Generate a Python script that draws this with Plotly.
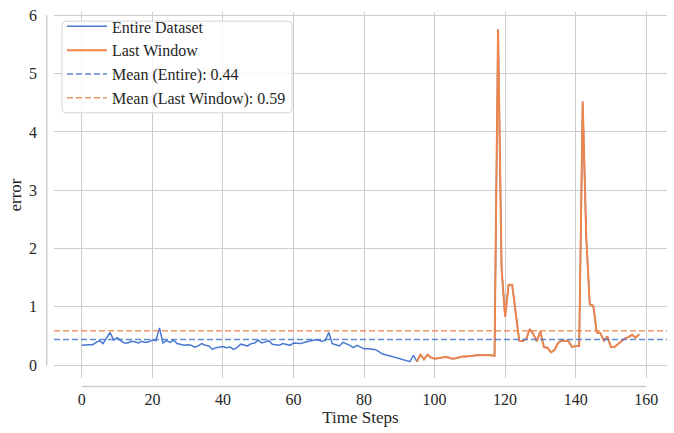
import plotly.graph_objects as go

# ---- data -------------------------------------------------------------
time_steps = list(range(159))
error_values = [
    0.34, 0.35, 0.35, 0.35, 0.39, 0.42, 0.37, 0.46, 0.56, 0.43,
    0.47, 0.42, 0.38, 0.38, 0.41, 0.40, 0.38, 0.41, 0.39, 0.40,
    0.43, 0.42, 0.64, 0.38, 0.42, 0.39, 0.43, 0.37, 0.35, 0.34,
    0.35, 0.34, 0.31, 0.33, 0.37, 0.34, 0.33, 0.27, 0.30, 0.31,
    0.32, 0.30, 0.31, 0.27, 0.30, 0.36, 0.34, 0.33, 0.37, 0.38,
    0.43, 0.38, 0.40, 0.42, 0.36, 0.35, 0.34, 0.37, 0.36, 0.34,
    0.38, 0.37, 0.37, 0.39, 0.41, 0.42, 0.43, 0.43, 0.41, 0.42,
    0.56, 0.37, 0.35, 0.33, 0.39, 0.37, 0.34, 0.30, 0.34, 0.31,
    0.28, 0.28, 0.27, 0.27, 0.24, 0.20, 0.18, 0.17, 0.15, 0.13,
    0.11, 0.09, 0.07, 0.06, 0.17, 0.06, 0.18, 0.10, 0.18, 0.13,
    0.11, 0.12, 0.13, 0.14, 0.13, 0.11, 0.12, 0.14, 0.15, 0.15,
    0.16, 0.17, 0.17, 0.17, 0.17, 0.18, 0.17, 0.16, 5.76, 1.66,
    0.83, 1.38, 1.38, 0.90, 0.42, 0.41, 0.45, 0.62, 0.53, 0.41,
    0.58, 0.31, 0.30, 0.22, 0.26, 0.38, 0.42, 0.42, 0.41, 0.31,
    0.33, 0.33, 4.52, 2.20, 1.04, 1.02, 0.56, 0.55, 0.42, 0.49,
    0.31, 0.31, 0.36, 0.42, 0.46, 0.48, 0.52, 0.47, 0.53,
]
window_start = 95
window_steps = time_steps[window_start:]
window_values = error_values[window_start:]
mean_entire = 0.44
mean_window = 0.59

x_ticks = [0, 20, 40, 60, 80, 100, 120, 140, 160]
y_ticks = [0, 1, 2, 3, 4, 5, 6]
x_range = [-7.9, 165.9]
y_range = [-0.22, 6.056]

# ---- style ------------------------------------------------------------
FONT = "Liberation Serif, Times New Roman, serif"
BLUE = "#4878d0"
ORANGE = "#ee854a"
GRID = "#cccccc"
TEXT = "#262626"

fig = go.Figure()
fig.add_trace(go.Scatter(x=time_steps, y=error_values, mode="lines",
                         name="Entire Dataset",
                         line=dict(color=BLUE, width=1.5)))
fig.add_trace(go.Scatter(x=window_steps, y=window_values, mode="lines",
                         name="Last Window",
                         line=dict(color=ORANGE, width=2)))
fig.add_trace(go.Scatter(x=x_range, y=[mean_entire, mean_entire], mode="lines",
                         name=f"Mean (Entire): {mean_entire:.2f}",
                         line=dict(color="rgba(72,120,208,0.85)", width=1.5,
                                   dash="6px,3px")))
fig.add_trace(go.Scatter(x=x_range, y=[mean_window, mean_window], mode="lines",
                         name=f"Mean (Last Window): {mean_window:.2f}",
                         line=dict(color="rgba(238,133,74,0.85)", width=1.5,
                                   dash="6px,3px")))

# offset, trimmed spines (seaborn despine style)
fig.add_shape(type="line", xref="x", yref="paper",
              x0=x_ticks[0], x1=x_ticks[-1], y0=-0.0234, y1=-0.0234,
              line=dict(color=GRID, width=1.5), layer="below")
fig.add_shape(type="line", xref="paper", yref="y",
              x0=-0.0119, x1=-0.0119, y0=y_ticks[0], y1=y_ticks[-1],
              line=dict(color=GRID, width=1.5), layer="below")

# legend frame with rounded corners (matplotlib fancybox look)
x0, x1, y0, y1 = 0.0131, 0.3884, 0.7245, 0.975
rx, ry = 0.0065, 0.0108
frame = (f"M {x0+rx},{y1} L {x1-rx},{y1} Q {x1},{y1} {x1},{y1-ry} "
         f"L {x1},{y0+ry} Q {x1},{y0} {x1-rx},{y0} L {x0+rx},{y0} "
         f"Q {x0},{y0} {x0},{y0+ry} L {x0},{y1-ry} Q {x0},{y1} {x0+rx},{y1} Z")
fig.add_shape(type="path", xref="paper", yref="paper", path=frame,
              fillcolor="rgba(255,255,255,0.8)",
              line=dict(color="#d6d6d6", width=1), layer="above")

fig.update_layout(
    width=674, height=433,
    margin=dict(l=54, r=7, t=7, b=55),
    paper_bgcolor="white", plot_bgcolor="white",
    font=dict(family=FONT, size=16, color=TEXT),
    showlegend=True,
    legend=dict(x=0.013, y=1.007, xanchor="left", yanchor="top",
                bgcolor="rgba(0,0,0,0)", borderwidth=0,
                font=dict(family=FONT, size=16, color=TEXT),
                itemwidth=40),
)
fig.update_xaxes(range=x_range, tickvals=x_ticks, showgrid=True,
                 gridcolor=GRID, gridwidth=1.3, zeroline=False, showline=False,
                 ticks="", ticklabelstandoff=10,
                 title=dict(text="Time Steps", font=dict(size=17), standoff=2))
fig.update_yaxes(range=y_range, tickvals=y_ticks, showgrid=True,
                 gridcolor=GRID, gridwidth=1.3, zeroline=False, showline=False,
                 ticks="", ticklabelstandoff=16,
                 title=dict(text="error", font=dict(size=17), standoff=3))

fig.write_html("out.html")
